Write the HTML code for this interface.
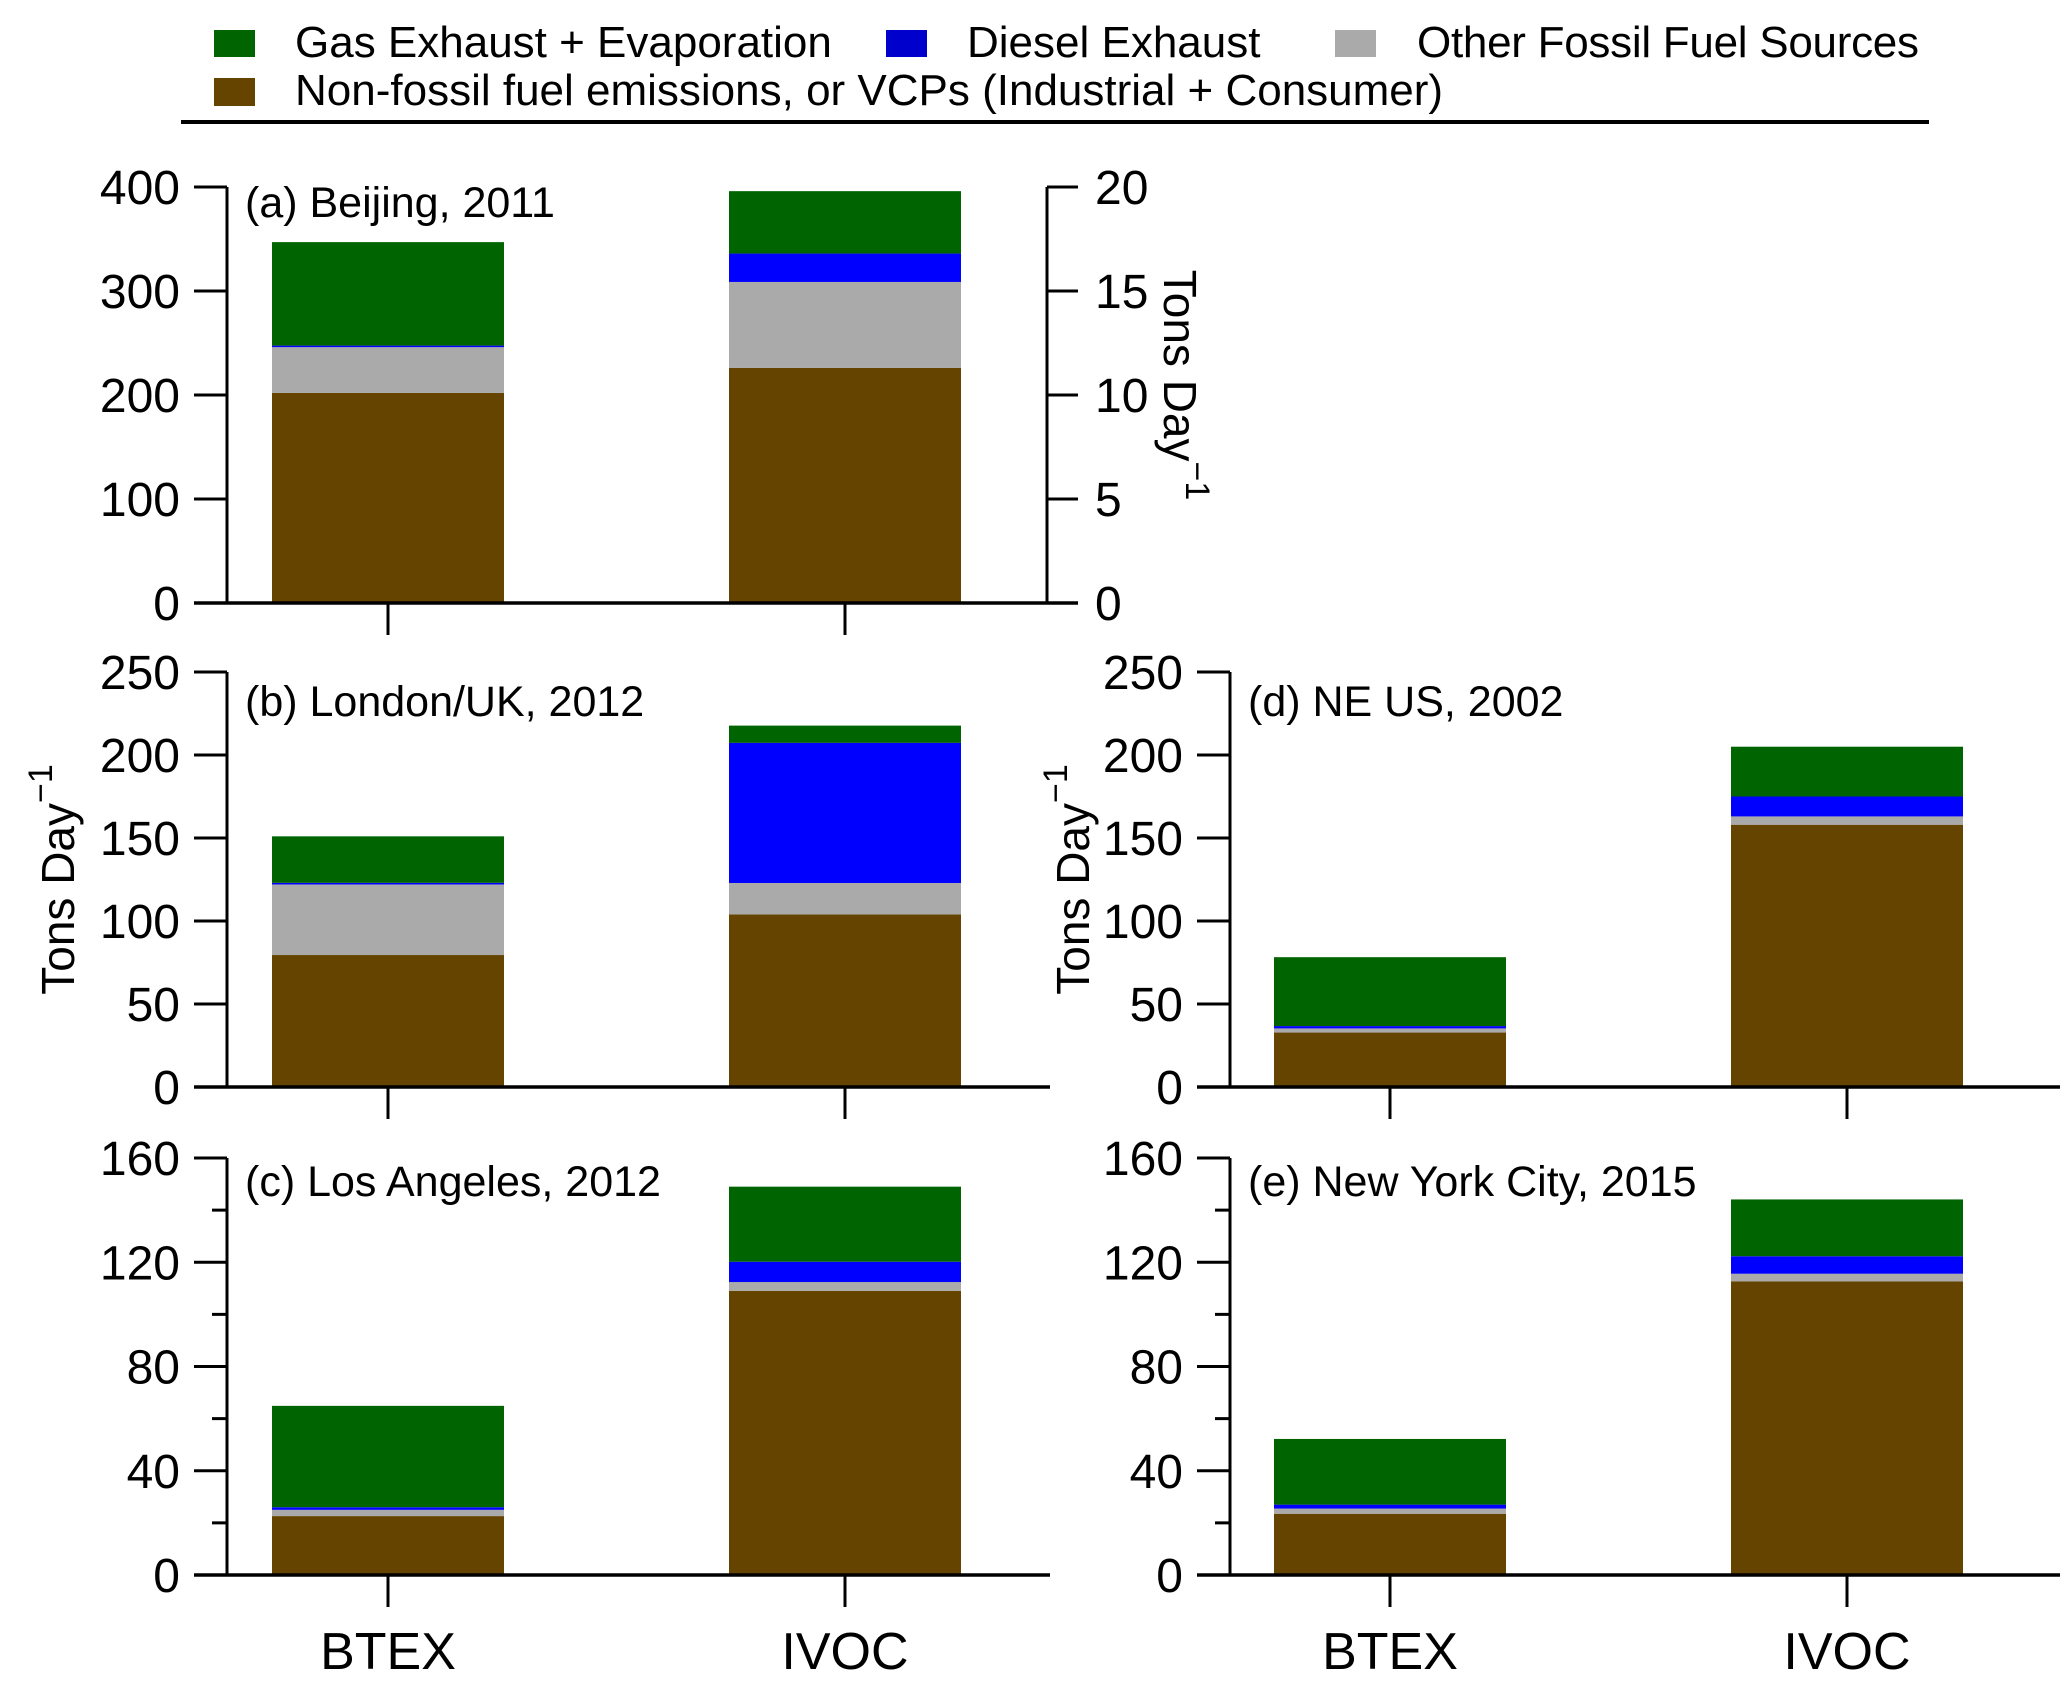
<!DOCTYPE html>
<html><head><meta charset="utf-8"><style>
html,body{margin:0;padding:0;background:#fff}
svg{display:block;font-family:"Liberation Sans",Arial,sans-serif}
</style></head><body>
<svg id="chart" width="2067" height="1691" viewBox="0 0 2067 1691" xmlns="http://www.w3.org/2000/svg">
<g font-size="44">
 <rect x="214" y="30" width="41" height="27" fill="#006400"/>
 <text x="295" y="57">Gas Exhaust + Evaporation</text>
 <rect x="886" y="30" width="41" height="27" fill="#0000cc"/>
 <text x="967" y="57">Diesel Exhaust</text>
 <rect x="1335" y="30" width="41" height="27" fill="#aaaaaa"/>
 <text x="1417" y="57" textLength="502">Other Fossil Fuel Sources</text>
 <rect x="214" y="78" width="41" height="28" fill="#654400"/>
 <text x="295" y="105">Non-fossil fuel emissions, or VCPs (Industrial + Consumer)</text>
 <rect x="181" y="120" width="1748" height="4" fill="#000"/>
</g>
<g id="panels"></g>
</svg>
<script>
const categories = ["BTEX","IVOC"];
const seriesNames = ["Non-fossil fuel / VCPs","Other Fossil Fuel Sources","Diesel Exhaust","Gas Exhaust + Evaporation"];
const colors = ["#654400","#aaaaaa","#0000ff","#006400"];
// values per panel: [BTEX, IVOC], each [vcp, other, diesel, gas]
const beijingValues = [[202,44,1.5,99.5],[226,82.7,27.3,60]];
const londonValues = [[79.5,42.5,1,28],[104,18.9,84.4,10.4]];
const laValues = [[22.6,2.4,1.0,38.9],[109,3.4,7.8,28.8]];
const neusValues = [[32.8,2.5,1.4,41.5],[158,5,12,30]];
const nycValues = [[23.5,2,1.5,25.2],[112.7,2.9,6.7,21.8]];
const ticks400 = [0,100,200,300,400];
const ticks250 = [0,50,100,150,200,250];
const ticks160 = [0,40,80,120,160];
const minor160 = [20,60,100,140];
const rightTicks = [0,5,10,15,20];

const NS="http://www.w3.org/2000/svg";
const root=document.getElementById('panels');
function mk(tag,attrs,parent){const e=document.createElementNS(NS,tag);for(const k in attrs)e.setAttribute(k,attrs[k]);(parent||root).appendChild(e);return e;}

const panels=[
 {id:'a',title:'(a) Beijing, 2011',vals:beijingValues,ticks:ticks400,max:400,ax:227,x0:194,x1:1050,top:187,bot:603,bars:[272,729],tb:217,showCat:false,right:true},
 {id:'b',title:'(b) London/UK, 2012',vals:londonValues,ticks:ticks250,max:250,ax:227,x0:194,x1:1050,top:672,bot:1087,bars:[272,729],tb:716,ylab:58},
 {id:'c',title:'(c) Los Angeles, 2012',vals:laValues,ticks:ticks160,minor:minor160,max:160,ax:227,x0:194,x1:1050,top:1158,bot:1575,bars:[272,729],tb:1196,showCat:true},
 {id:'d',title:'(d) NE US, 2002',vals:neusValues,ticks:ticks250,max:250,ax:1230,x0:1197,x1:2060,top:672,bot:1087,bars:[1274,1731],tb:716,ylab:1073},
 {id:'e',title:'(e) New York City, 2015',vals:nycValues,ticks:ticks160,minor:minor160,max:160,ax:1230,x0:1197,x1:2060,top:1158,bot:1575,bars:[1274,1731],tb:1196,showCat:true}
];
const BW=232;
panels.forEach(p=>{
 const g=mk('g',{});
 
 
 const y=v=>p.bot-(v/p.max)*(p.bot-p.top);
 p.vals.forEach((segs,ci)=>{
  let acc=0;
  segs.forEach((v,si)=>{
   const r=mk('rect',{x:p.bars[ci],y:y(acc+v),width:BW,height:y(acc)-y(acc+v),fill:colors[si]},g);
   
   
   acc+=v;
  });
 });
 const ya=mk('line',{x1:p.ax,y1:p.top,x2:p.ax,y2:p.bot,stroke:'#000','stroke-width':3},g);
 
 
 const xa=mk('line',{x1:p.x0,y1:p.bot,x2:p.x1,y2:p.bot,stroke:'#000','stroke-width':3.5},g);
 
 
 p.ticks.forEach(t=>{
  mk('line',{x1:p.x0,y1:y(t),x2:p.ax,y2:y(t),stroke:'#000','stroke-width':3},g);
  const tx=mk('text',{x:p.x0-14,y:y(t)+17,'font-size':48,'text-anchor':'end'},g);
  tx.textContent=t;
  
  
 });
 (p.minor||[]).forEach(t=>{mk('line',{x1:p.ax-15,y1:y(t),x2:p.ax,y2:y(t),stroke:'#000','stroke-width':3},g);});
 categories.forEach((c,ci)=>{
  const cx=p.bars[ci]+BW/2;
  mk('line',{x1:cx,y1:p.bot,x2:cx,y2:p.bot+32,stroke:'#000','stroke-width':3},g);
  if(p.showCat){
   const t=mk('text',{x:cx,y:1669,'font-size':52,'text-anchor':'middle'},g);
   t.textContent=c;
   
   
  }
 });
 const tt=mk('text',{x:p.ax+18,y:p.tb,'font-size':43},g);
 tt.textContent=p.title;
 
 
 if(p.ylab){
  const yl=mk('text',{x:0,y:0,'font-size':46,'text-anchor':'middle',transform:'translate('+(p.ylab+16)+','+(p.top+p.bot)/2+') rotate(-90)'},g);
  yl.innerHTML='Tons Day<tspan dy="-22" font-size="34">−1</tspan>';
  
  
 }
 if(p.right){
  const rx=1047;
  mk('line',{x1:rx,y1:p.top,x2:rx,y2:p.bot,stroke:'#000','stroke-width':3},g);
  mk('line',{x1:1050,y1:p.bot,x2:rx+31,y2:p.bot,stroke:'#000','stroke-width':3.5},g);
  rightTicks.forEach(t=>{
   const yy=p.bot-(t/20)*(p.bot-p.top);
   mk('line',{x1:rx,y1:yy,x2:rx+31,y2:yy,stroke:'#000','stroke-width':3},g);
   const tx=mk('text',{x:rx+48,y:yy+17,'font-size':48},g);
   tx.textContent=t;
   
   
  });
  const yl=mk('text',{x:0,y:0,'font-size':46,'text-anchor':'middle',transform:'translate(1164,385) rotate(90)'},g);
  yl.innerHTML='Tons Day<tspan dy="-22" font-size="34">−1</tspan>';
  
  
 }
});
</script>
</body></html>
